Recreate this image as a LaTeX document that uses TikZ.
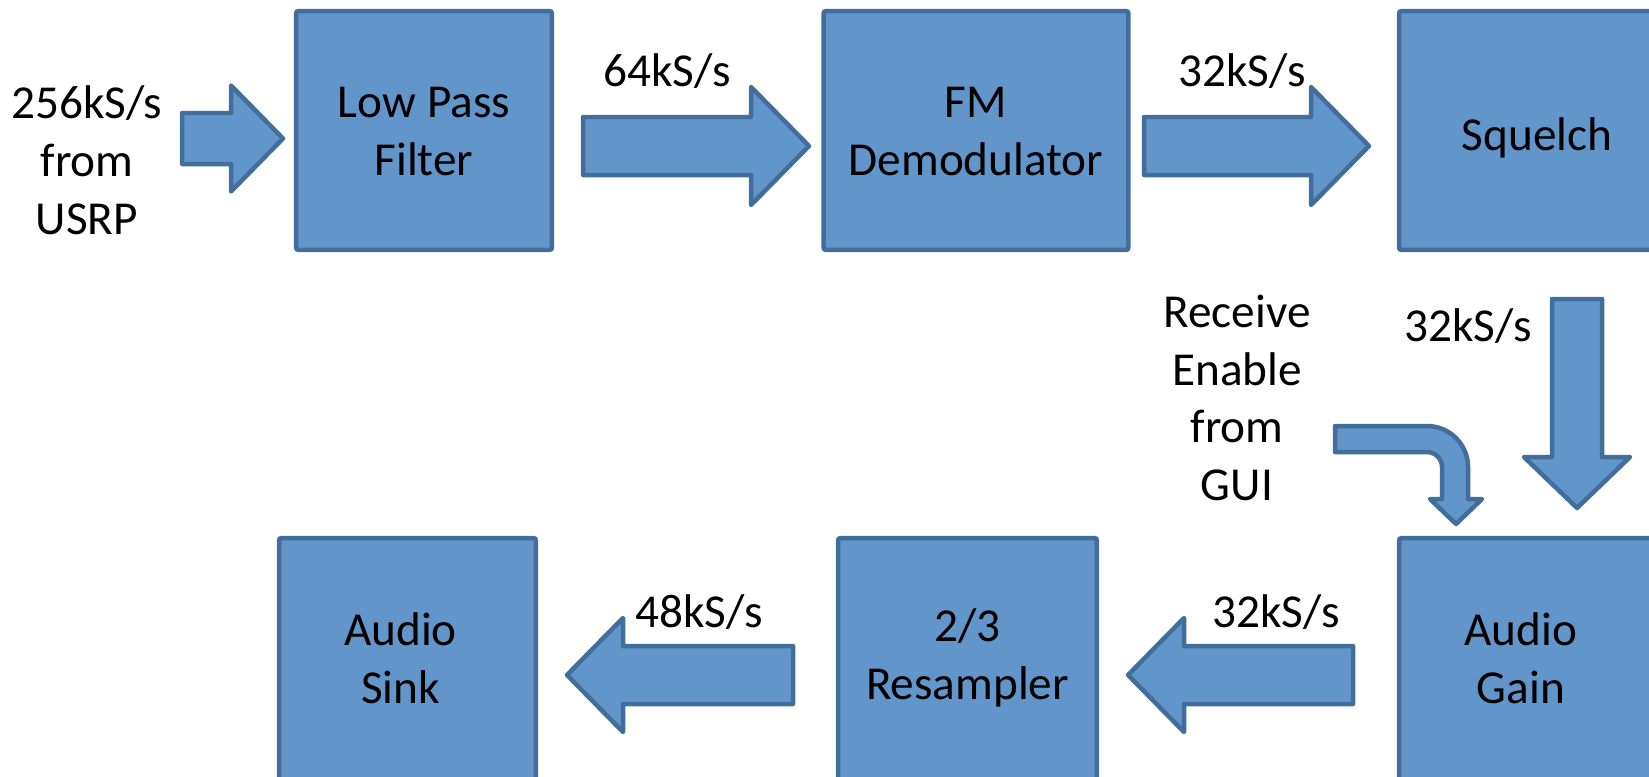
\documentclass[tikz,border=0pt]{standalone}
\usepackage{fontspec}
\setmainfont{Carlito}
\usetikzlibrary{calc}
\definecolor{blockfill}{RGB}{98,149,201}
\definecolor{blockline}{RGB}{66,110,156}

% horizontal block arrow: tail x, head base x, tip x, centre y, shaft half-width, head half-width
\newcommand{\hblock}[6]{%
  \path[blockarrow] (#1,#4-#5) -- (#2,#4-#5) -- (#2,#4-#6) -- (#3,#4)
    -- (#2,#4+#6) -- (#2,#4+#5) -- (#1,#4+#5) -- cycle;}
% vertical block arrow: centre x, tail y, head base y, tip y, shaft half-width, head half-width
\newcommand{\vblock}[6]{%
  \path[blockarrow] (#1-#5,#2) -- (#1-#5,#3) -- (#1-#6,#3) -- (#1,#4)
    -- (#1+#6,#3) -- (#1+#5,#3) -- (#1+#5,#2) -- cycle;}

\begin{document}
\begin{tikzpicture}[x=0.02cm, y=-0.02cm,
  bigtext/.style={font=\fontsize{26.9}{32.9}\selectfont},
  stage/.style={draw=blockline, fill=blockfill, line width=0.09cm,
    rounded corners=0.05cm, inner sep=0pt},
  lbl/.style={inner sep=0pt, align=center, bigtext},
  blockarrow/.style={draw=blockline, fill=blockfill, line width=0.09cm,
    line join=round}]
\useasboundingbox (0,0) rectangle (1649,777);
\clip (0,0) rectangle (1649,777);

% processing stages
\node[stage, minimum width=5.12cm, minimum height=4.78cm] (lpf)  at (424,130.5) {};
\node[stage, minimum width=6.10cm, minimum height=4.78cm] (fm)   at (976,130.5) {};
\node[stage, minimum width=5.52cm, minimum height=4.78cm] (sq)   at (1537,130.5) {};
\node[stage, minimum width=5.12cm, minimum height=5.00cm] (gain) at (1527,663) {};
\node[stage, minimum width=5.18cm, minimum height=5.00cm] (res)  at (967.5,663) {};
\node[stage, minimum width=5.14cm, minimum height=5.00cm] (sink) at (407.5,663) {};

% stage titles
\node[lbl] (lpft)  at ($(lpf.center)+(0,1)$)   {Low Pass\\Filter};
\node[lbl] (fmt)   at ($(fm.center)+(0,1)$)    {FM\\Demodulator};
\node[lbl] (sqt)   at ($(sq.center)+(0,7)$)    {Squelch};
\node[lbl] (gaint) at ($(gain.center)+(-6,-5)$) {Audio\\Gain};
\node[lbl] (rest)  at ($(res.center)+(0,-5)$)  {2/3\\Resampler};
\node[lbl] (sinkt) at ($(sink.center)+(-7,-5)$) {Audio\\Sink};

% rate labels and inputs
\node[lbl] (src)  at (87,160)   {256kS/s\\from\\USRP};
\node[lbl] (r64)  at (667,71.5) {64kS/s};
\node[lbl] (r32a) at (1242,71.5) {32kS/s};
\node[lbl] (r32b) at (1468,326) {32kS/s};
\node[lbl] (gui)  at (1237,398) {Receive\\Enable\\from\\GUI};
\node[lbl] (r32c) at (1276,612) {32kS/s};
\node[lbl] (r48)  at (699,612)  {48kS/s};

% signal flow
\hblock{182}{231}{283}{138.5}{25.5}{53}
\hblock{583}{751}{809}{146}{29}{59}
\hblock{1144}{1311}{1369}{146}{29}{59}
\vblock{1577}{299}{457}{508}{25}{53}
\hblock{1353}{1184}{1128}{675}{29}{57}
\hblock{793}{623}{567}{675}{29}{57}

% receive-enable bent arrow
\path[blockarrow] (1335,426) -- (1427,426)
  .. controls (1449.6,426) and (1468,444.4) .. (1468,467)
  -- (1468,499) -- (1482,499) -- (1456,524) -- (1430,499) -- (1442,499)
  -- (1442,467) .. controls (1442,458.7) and (1435.3,452) .. (1427,452)
  -- (1335,452) -- cycle;
\end{tikzpicture}
\end{document}
